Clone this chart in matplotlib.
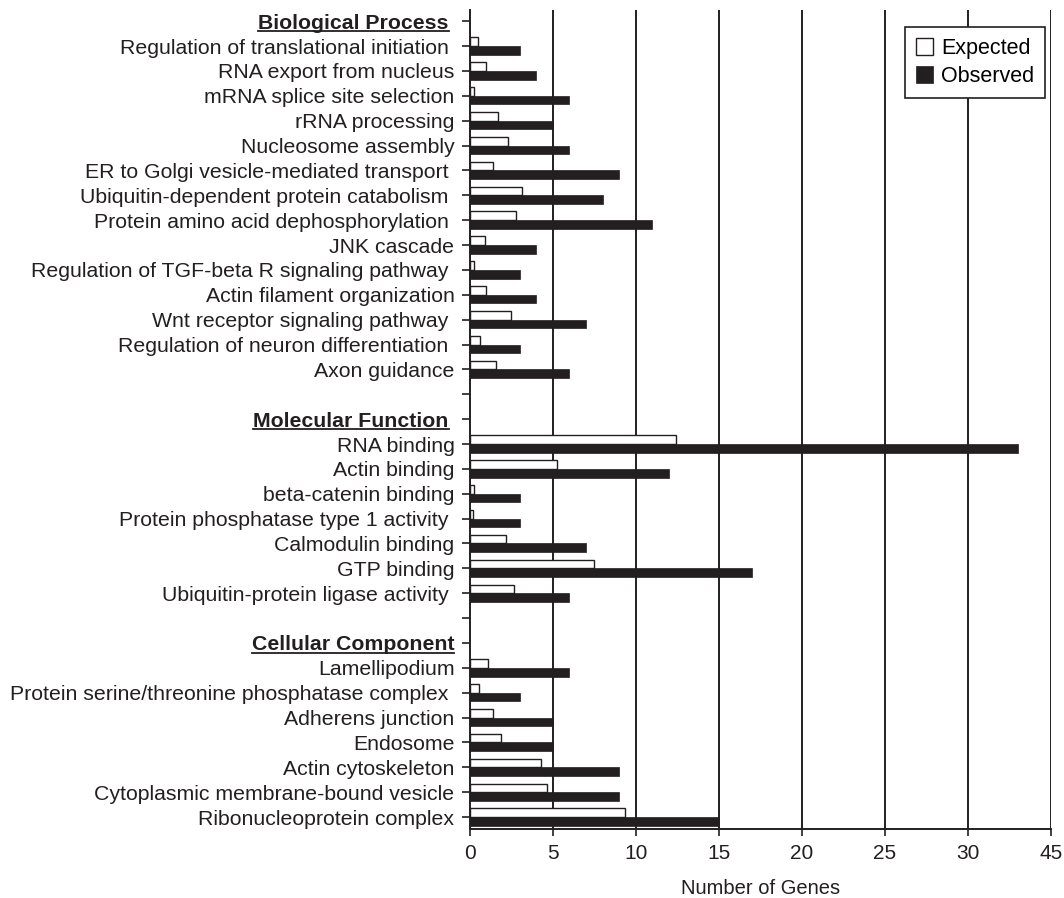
import matplotlib
matplotlib.use('Agg')
import matplotlib.pyplot as plt
from matplotlib.lines import Line2D
import numpy as np

plt.rcParams['font.family'] = ['Liberation Sans', 'DejaVu Sans']

# ---- data ----
bp_terms = ["Regulation of translational initiation ", "RNA export from nucleus",
            "mRNA splice site selection", "rRNA processing", "Nucleosome assembly",
            "ER to Golgi vesicle-mediated transport ", "Ubiquitin-dependent protein catabolism ",
            "Protein amino acid dephosphorylation ", "JNK cascade",
            "Regulation of TGF-beta R signaling pathway ", "Actin filament organization",
            "Wnt receptor signaling pathway ", "Regulation of neuron differentiation ",
            "Axon guidance"]
bp_expected = [0.48, 0.98, 0.26, 1.73, 2.29, 1.43, 3.14, 2.8, 0.92, 0.26, 0.98, 2.5, 0.62, 1.57]
bp_observed = [3, 4, 6, 5, 6, 9, 8, 11, 4, 3, 4, 7, 3, 6]

mf_terms = ["RNA binding", "Actin binding", "beta-catenin binding",
            "Protein phosphatase type 1 activity ", "Calmodulin binding", "GTP binding",
            "Ubiquitin-protein ligase activity "]
mf_expected = [12.45, 5.23, 0.26, 0.2, 2.21, 7.51, 2.64]
mf_observed = [33, 12, 3, 3, 7, 17, 6]

cc_terms = ["Lamellipodium", "Protein serine/threonine phosphatase complex ",
            "Adherens junction", "Endosome", "Actin cytoskeleton",
            "Cytoplasmic membrane-bound vesicle", "Ribonucleoprotein complex"]
cc_expected = [1.07, 0.56, 1.43, 1.91, 4.31, 4.63, 9.36]
cc_observed = [6, 3, 5, 5, 9, 9, 15]

headers = ["Biological Process ", "Molecular Function ", "Cellular Component"]
x_ticks = [0, 5, 10, 15, 20, 25, 30, 35]
x_ticklabels = ["0", "5", "10", "15", "20", "25", "30", "45"]

# ---- build rows ----
labels, exp_vals, obs_vals, is_header = [], [], [], []
groups = [(headers[0], bp_terms, bp_expected, bp_observed),
          (headers[1], mf_terms, mf_expected, mf_observed),
          (headers[2], cc_terms, cc_expected, cc_observed)]
for gi, (h, terms, ev, ov) in enumerate(groups):
    if gi > 0:
        labels.append(""); exp_vals.append(np.nan); obs_vals.append(np.nan); is_header.append(False)
    labels.append(h); exp_vals.append(np.nan); obs_vals.append(np.nan); is_header.append(True)
    for t, e, o in zip(terms, ev, ov):
        labels.append(t); exp_vals.append(e); obs_vals.append(o); is_header.append(False)

n = len(labels)
y = np.arange(n)
exp_vals = np.array(exp_vals); obs_vals = np.array(obs_vals)
mask = ~np.isnan(exp_vals)

ink = '#231f20'
FS = 15.3
fig = plt.figure(figsize=(10.64, 8.98), dpi=100)
ax = fig.add_axes([0.4415, 0.0768, 0.5460, 0.9121])

bh = 0.35
ax.barh(y[mask] - bh / 2, exp_vals[mask], height=bh, color='white', edgecolor=ink,
        linewidth=1.0, label='Expected', zorder=3)
ax.barh(y[mask] + bh / 2, obs_vals[mask], height=bh, color=ink, edgecolor=ink,
        linewidth=0.5, label='Observed', zorder=3)

ax.set_xlim(0, 35)
ax.set_ylim(n - 1 + 0.48, -0.45)
ax.set_xticks(x_ticks)
ax.set_xticklabels(x_ticklabels, fontsize=15, color=ink)
ax.set_yticks(y)
ax.set_yticklabels(labels, fontsize=FS, color=ink)
for lbl, h in zip(ax.get_yticklabels(), is_header):
    if h:
        lbl.set_fontweight('bold')

for xv in x_ticks[1:]:
    ax.axvline(xv, color=ink, linewidth=1.4, zorder=1)

ax.spines['top'].set_visible(False)
ax.spines['right'].set_visible(False)
for s in ['left', 'bottom']:
    ax.spines[s].set_color(ink)
    ax.spines[s].set_linewidth(1.4)
ax.tick_params(axis='y', direction='out', length=6, width=1.2, pad=5, colors=ink)
ax.tick_params(axis='x', direction='out', length=5, width=1.2, pad=6, colors=ink)
ax.set_xlabel("Number of Genes", fontsize=14.5, color=ink, labelpad=11)

leg = ax.legend(loc='upper right', bbox_to_anchor=(0.990, 0.979), fontsize=15.5,
                frameon=True, fancybox=False, edgecolor=ink, handlelength=0.8,
                handleheight=0.8, handletextpad=0.35, borderpad=0.5, labelspacing=0.33,
                borderaxespad=0)
leg.get_frame().set_linewidth(1.2)
leg.get_frame().set_alpha(1)

# underline headers
fig.canvas.draw()
renderer = fig.canvas.get_renderer()
for lbl, h in zip(ax.get_yticklabels(), is_header):
    if h:
        txt = lbl.get_text().rstrip()
        bb = lbl.get_window_extent(renderer)
        tmp = fig.text(0, 0, txt, fontsize=FS, fontweight='bold')
        tb = tmp.get_window_extent(renderer)
        tmp.remove()
        x1 = bb.x1 - (bb.width - tb.width)
        x0 = x1 - tb.width
        yline = bb.y0 + 1.5
        fig.add_artist(Line2D([x0 / fig.bbox.width, x1 / fig.bbox.width],
                              [yline / fig.bbox.height] * 2, color=ink, linewidth=1.3))

fig.savefig('out.png', dpi=100)
